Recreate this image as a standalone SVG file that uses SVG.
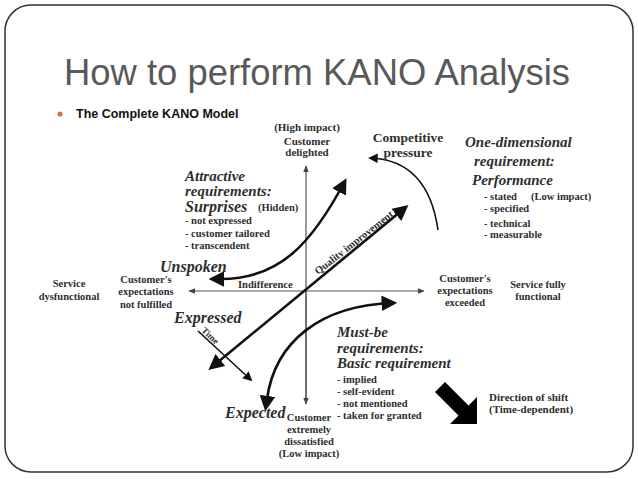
<svg xmlns="http://www.w3.org/2000/svg" width="638" height="479" viewBox="0 0 638 479">
<defs>
<style>
.t{font-family:"Liberation Serif","Times New Roman",serif;font-weight:bold;fill:#2e2e2e}
.s{font-size:10.5px}
.m{font-size:11px}
.h{font-size:15px;font-style:italic}
.ax{stroke:#555;stroke-width:1.2;fill:none}
.th{stroke:#111;stroke-width:2.6;fill:none}
</style>
<marker id="ah" viewBox="0 0 10 10" refX="9" refY="5" markerWidth="7" markerHeight="7" markerUnits="userSpaceOnUse" orient="auto"><path d="M0,1 L10,5 L0,9 z" fill="#444"/></marker>
<marker id="bh" viewBox="0 0 10 10" refX="8" refY="5" markerWidth="6" markerHeight="6" orient="auto"><path d="M0,0 L10,5 L0,10 z" fill="#111"/></marker>
<marker id="bs" viewBox="0 0 10 10" refX="2" refY="5" markerWidth="6" markerHeight="6" orient="auto-start-reverse"><path d="M0,0 L10,5 L0,10 z" fill="#111"/></marker>
</defs>
<rect width="638" height="479" fill="#fff"/>
<rect id="frame" x="5" y="5" width="628" height="467" rx="26" ry="26" fill="none" stroke="#333" stroke-width="1.5"/>
<g id="title"><text x="64" y="85" font-family="Liberation Sans, Arial, sans-serif" font-size="37" fill="#595959" textLength="506" lengthAdjust="spacingAndGlyphs">How to perform KANO Analysis</text></g>
<g id="bullet"><circle cx="60" cy="114" r="2.6" fill="#d2763f"/><text x="76" y="118" font-family="Liberation Sans, Arial, sans-serif" font-size="12.5" font-weight="bold" fill="#111">The Complete KANO Model</text></g>

<g id="connectors">
<line id="axis-up" class="ax" x1="306" y1="403" x2="306" y2="166" marker-end="url(#ah)"/>
<line id="axis-down" class="ax" x1="306" y1="291" x2="306" y2="404" marker-end="url(#ah)"/>
<line id="axis-left" class="ax" x1="306" y1="291" x2="189" y2="291" marker-end="url(#ah)"/>
<line id="axis-right" class="ax" x1="306" y1="291" x2="424" y2="291" marker-end="url(#ah)"/>
<line id="quality" class="th" x1="218" y1="362" x2="406" y2="207" marker-end="url(#bh)" marker-start="url(#bs)"/>
<line id="time" stroke="#111" stroke-width="1.6" x1="198" y1="331" x2="251" y2="380" marker-end="url(#bh)"/>
<path id="attractive" class="th" d="M221,279 C280,279 312,243 345,181" marker-end="url(#bh)" marker-start="url(#bs)"/>
<path id="mustbe" class="th" d="M267,399 C275,342 320,305 394,303" marker-end="url(#bh)" marker-start="url(#bs)"/>
<path id="competitive" stroke="#111" stroke-width="1.6" fill="none" d="M438,230 Q428,160 370,158" marker-end="url(#bh)"/>
</g>

<g id="n-highimpact" class="t m" text-anchor="middle"><text x="307" y="131">(High impact)</text><text x="307" y="145">Customer</text><text x="307" y="156">delighted</text></g>
<g id="n-competitive" class="t" font-size="13.5" text-anchor="middle"><text x="408" y="142">Competitive</text><text x="408" y="157">pressure</text></g>
<g id="n-onedim" class="t h"><text x="465" y="147">One-dimensional</text><text x="474" y="166">requirement:</text><text x="472" y="185">Performance</text></g>
<g id="n-onedim-list" class="t s"><text x="484" y="200">- stated</text><text x="531" y="200">(Low impact)</text><text x="484" y="212">- specified</text><text x="484" y="227">- technical</text><text x="484" y="238">- measurable</text></g>
<g id="n-attractive" class="t"><text class="h" x="185" y="181">Attractive</text><text class="h" x="185" y="196">requirements:</text><text x="185" y="212" font-size="16" font-style="italic">Surprises</text><text class="s" x="258" y="211">(Hidden)</text><text class="s" x="185" y="224">- not expressed</text><text class="s" x="185" y="237">- customer tailored</text><text class="s" x="185" y="249">- transcendent</text></g>
<g id="n-unspoken" class="t"><text x="160" y="272" font-size="16" font-style="italic">Unspoken</text></g>
<g id="n-indifference" class="t s"><text x="238" y="288">Indifference</text></g>
<g id="n-notfulfilled" class="t s" text-anchor="middle"><text x="146" y="283">Customer's</text><text x="146" y="295">expectations</text><text x="146" y="308">not fulfilled</text></g>
<g id="n-dysfunctional" class="t s" text-anchor="middle"><text x="69" y="287">Service</text><text x="69" y="300">dysfunctional</text></g>
<g id="n-expressed" class="t"><text x="174" y="323" font-size="16" font-style="italic">Expressed</text></g>
<g id="n-time" class="t"><text x="0" y="0" font-size="9" transform="translate(201,331) rotate(44)">Time</text></g>
<g id="n-quality" class="t"><text x="0" y="0" font-size="10.5" transform="translate(318,275) rotate(-38)">Quality improvement</text></g>
<g id="n-exceeded" class="t s" text-anchor="middle"><text x="465" y="282">Customer's</text><text x="465" y="294">expectations</text><text x="465" y="306">exceeded</text></g>
<g id="n-functional" class="t s" text-anchor="middle"><text x="538" y="288">Service fully</text><text x="538" y="300">functional</text></g>
<g id="n-mustbe" class="t"><text class="h" x="337" y="337">Must-be</text><text class="h" x="337" y="353">requirements:</text><text class="h" x="337" y="368">Basic requirement</text><text class="s" x="337" y="383">- implied</text><text class="s" x="337" y="395">- self-evident</text><text class="s" x="337" y="407">- not mentioned</text><text class="s" x="337" y="419">- taken for granted</text></g>
<g id="n-expected" class="t"><text x="225" y="418" font-size="16" font-style="italic">Expected</text></g>
<g id="n-dissatisfied" class="t s" text-anchor="middle"><text x="309" y="421">Customer</text><text x="309" y="433">extremely</text><text x="309" y="445">dissatisfied</text><text x="309" y="457">(Low impact)</text></g>
<g id="n-shift"><polygon points="445,382 468.5,405.5 477,397 477,424 450,424 458.5,415.5 435,392" fill="#000"/><text class="t m" x="489" y="401">Direction of shift</text><text class="t m" x="489" y="413">(Time-dependent)</text></g>
</svg>
